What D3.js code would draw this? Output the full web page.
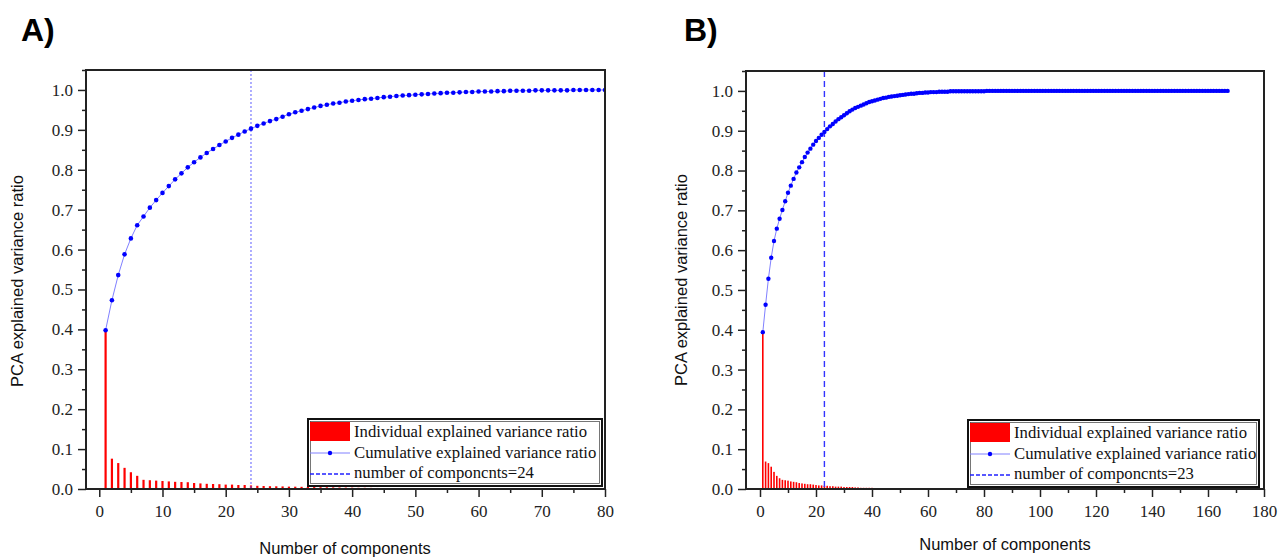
<!DOCTYPE html>
<html>
<head>
<meta charset="utf-8">
<script src="https://d3js.org/d3.v7.min.js"></script>
<style>
body { margin: 0; background: #fff; }
.tick line { stroke: #222; stroke-width: 1.5; }
.frame { fill: none; stroke: #222; stroke-width: 2; }
.bar { fill: #ff0000; }
.cumline { fill: none; stroke: #8080ff; stroke-width: 1; }
.dot { fill: #0000ff; }
.axis-title { font-family: "Liberation Sans", Arial, sans-serif; font-size: 16.5px; fill: #111; }
.panel-label { font-family: "Liberation Sans", Arial, sans-serif; font-weight: bold; font-size: 32px; fill: #000; }
.legend text { font-family: "Liberation Serif", "Times New Roman", serif; font-size: 16.7px; fill: #111; }
</style>
</head>
<body>
<svg id="chart" width="1278" height="557"></svg>
<script>

// ---- panel A data (80 components) ----
var individualA = [
  0.397, 0.076, 0.065, 0.053, 0.042, 0.033, 0.023, 0.022, 0.021, 0.020,
  0.019, 0.018, 0.0175, 0.017, 0.015, 0.014, 0.013, 0.0125, 0.012, 0.011,
  0.011, 0.010, 0.010, 0.009, 0.008, 0.0075, 0.007, 0.0068, 0.0065, 0.006,
  0.0058, 0.0055, 0.005, 0.0048, 0.0045, 0.0042, 0.004, 0.0038, 0.0035, 0.0033,
  0.003, 0.003, 0.0028, 0.0026, 0.0025, 0.0024, 0.0022, 0.002, 0.002, 0.0019,
  0.0018, 0.0017, 0.0016, 0.0015, 0.0014, 0.0013, 0.0012, 0.0012, 0.0011, 0.001,
  0.0009, 0.0009, 0.0008, 0.0008, 0.0007, 0.0007, 0.0006, 0.0006, 0.0006, 0.0005,
  0.0005, 0.0005, 0.0004, 0.0004, 0.0004, 0.0004, 0.0003, 0.0003, 0.0003, 0.0003
];
var cumulativeA = [
  0.398, 0.473, 0.536, 0.588, 0.628, 0.661, 0.683, 0.705, 0.724, 0.742,
  0.759, 0.776, 0.791, 0.806, 0.819, 0.831, 0.842, 0.852, 0.862, 0.871,
  0.880, 0.888, 0.896, 0.903, 0.910, 0.916, 0.922, 0.927, 0.933, 0.939,
  0.944, 0.948, 0.952, 0.956, 0.960, 0.963, 0.966, 0.968, 0.971, 0.973,
  0.975, 0.977, 0.978, 0.980, 0.982, 0.983, 0.985, 0.986, 0.987, 0.988,
  0.989, 0.990, 0.991, 0.992, 0.993, 0.993, 0.994, 0.995, 0.995, 0.996,
  0.996, 0.996, 0.997, 0.997, 0.998, 0.998, 0.998, 0.998, 0.999, 0.999,
  0.999, 0.999, 0.999, 0.999, 1.000, 1.000, 1.000, 1.000, 1.000, 1.000
];
var nCompA = 24;
var xTicksA = [0, 10, 20, 30, 40, 50, 60, 70, 80];
var xMinorA = [5, 15, 25, 35, 45, 55, 65, 75];

// ---- panel B data (167 components) ----
var individualB = [
  0.394, 0.069, 0.065, 0.056, 0.043, 0.033, 0.027, 0.023, 0.022, 0.021,
  0.019, 0.018, 0.017, 0.015, 0.014, 0.013, 0.012, 0.012, 0.011, 0.010,
  0.009, 0.009, 0.008, 0.008, 0.007, 0.007, 0.006, 0.006, 0.006, 0.005,
  0.005, 0.005, 0.005, 0.004, 0.004, 0.003, 0.003, 0.003, 0.003, 0.003,
  0.002, 0.002, 0.002, 0.002, 0.002, 0.002, 0.002, 0.002, 0.002, 0.002,
  0.0015, 0.0015, 0.0014, 0.0013, 0.0012, 0.0011, 0.001, 0.001, 0.0009, 0.0009,
  0.0008, 0.0008, 0.0007, 0.0007, 0.0006, 0.0006, 0.0005, 0.0005, 0.0004, 0.0004,
  0.0004, 0.0003, 0.0003, 0.0003, 0.0003, 0.0003, 0.0003, 0.0003, 0.0003, 0.0003,
  0.0002, 0.0002, 0.0002, 0.0002, 0.0002, 0.0002, 0.0002, 0.0002, 0.0002, 0.0002,
  0.0002, 0.0002, 0.0002, 0.0002, 0.0002, 0.0002, 0.0002, 0.0002, 0.0002, 0.0002,
  0.0001, 0.0001, 0.0001, 0.0001, 0.0001, 0.0001, 0.0001, 0.0001, 0.0001, 0.0001,
  0.0001, 0.0001, 0.0001, 0.0001, 0.0001, 0.0001, 0.0001, 0.0001, 0.0001, 0.0001,
  0.0001, 0.0001, 0.0001, 0.0001, 0.0001, 0.0001, 0.0001, 0.0001, 0.0001, 0.0001,
  0, 0, 0, 0, 0, 0, 0, 0, 0, 0,
  0, 0, 0, 0, 0, 0, 0, 0, 0, 0,
  0, 0, 0, 0, 0, 0, 0, 0, 0, 0,
  0, 0, 0, 0, 0, 0, 0
];
var cumulativeB = [
  0.394, 0.463, 0.528, 0.581, 0.623, 0.654, 0.679, 0.701, 0.723, 0.744,
  0.762, 0.779, 0.795, 0.808, 0.821, 0.834, 0.845, 0.855, 0.865, 0.874,
  0.882, 0.890, 0.897, 0.904, 0.911, 0.917, 0.923, 0.929, 0.934, 0.939,
  0.944, 0.949, 0.953, 0.957, 0.960, 0.963, 0.966, 0.969, 0.972, 0.974,
  0.976, 0.978, 0.980, 0.982, 0.983, 0.985, 0.986, 0.987, 0.988, 0.989,
  0.990, 0.991, 0.992, 0.993, 0.993, 0.994, 0.995, 0.995, 0.996, 0.996,
  0.997, 0.997, 0.997, 0.998, 0.998, 0.998, 0.998, 0.999, 0.999, 0.999,
  0.999, 0.999, 0.999, 0.999, 0.999, 0.999, 0.999, 0.999, 0.999, 0.999,
  1, 1, 1, 1, 1, 1, 1, 1, 1, 1,
  1, 1, 1, 1, 1, 1, 1, 1, 1, 1,
  1, 1, 1, 1, 1, 1, 1, 1, 1, 1,
  1, 1, 1, 1, 1, 1, 1, 1, 1, 1,
  1, 1, 1, 1, 1, 1, 1, 1, 1, 1,
  1, 1, 1, 1, 1, 1, 1, 1, 1, 1,
  1, 1, 1, 1, 1, 1, 1, 1, 1, 1,
  1, 1, 1, 1, 1, 1, 1, 1, 1, 1,
  1, 1, 1, 1, 1, 1, 1
];
var nCompB = 23;
var xTicksB = [0, 20, 40, 60, 80, 100, 120, 140, 160, 180];
var xMinorB = [10, 30, 50, 70, 90, 110, 130, 150, 170];

var yTicks = [0, 0.1, 0.2, 0.3, 0.4, 0.5, 0.6, 0.7, 0.8, 0.9, 1.0];
var yMinor = [0.05, 0.15, 0.25, 0.35, 0.45, 0.55, 0.65, 0.75, 0.85, 0.95, 1.05];

var legendLabels = ["Individual explained variance ratio", "Cumulative explained variance ratio", "number of componcnts="];

var svg = d3.select("#chart");
var tickFont = '"Liberation Serif", "Times New Roman", serif';

function styleAxis(sel) {
    sel.attr("font-family", tickFont).attr("font-size", 17);
    sel.selectAll(".tick text").attr("fill", "#222");
    sel.select(".domain").remove();
}

function drawPanel(p) {
    var g = svg.append("g");
    var comps = d3.range(1, p.individual.length + 1);

    var x = d3.scaleLinear().domain(p.xDomain).range([p.left, p.right]);
    var y = d3.scaleLinear().domain([0, 1.05]).range([p.bottom, p.top]);

    g.append("clipPath").attr("id", p.id + "-clip")
      .append("rect")
        .attr("x", p.left).attr("y", p.top)
        .attr("width", p.right - p.left).attr("height", p.bottom - p.top);

    var plot = g.append("g").attr("clip-path", "url(#" + p.id + "-clip)");

    // individual ratio bars
    plot.selectAll("rect.bar")
        .data(p.individual)
        .join("rect")
        .attr("class", "bar")
        .attr("x", function(d, i) { return x(comps[i]) - p.barW / 2; })
        .attr("width", p.barW)
        .attr("y", function(d) { return y(d); })
        .attr("height", function(d) { return y(0) - y(d); });

    // number of components marker
    plot.append("line")
        .attr("x1", x(p.nComp)).attr("x2", x(p.nComp))
        .attr("y1", p.top).attr("y2", p.bottom)
        .attr("stroke", p.vColor)
        .attr("stroke-width", p.vWidth)
        .attr("stroke-dasharray", p.vDash);

    // cumulative curve
    var line = d3.line()
        .x(function(d, i) { return x(comps[i]); })
        .y(function(d) { return y(d); });

    plot.append("path")
        .datum(p.cumulative)
        .attr("class", "cumline")
        .attr("d", line);

    plot.selectAll("circle.dot")
        .data(p.cumulative)
        .join("circle")
        .attr("class", "dot")
        .attr("cx", function(d, i) { return x(comps[i]); })
        .attr("cy", function(d) { return y(d); })
        .attr("r", p.dotR);

    // axes
    g.append("g").attr("transform", "translate(" + p.left + ",0)")
        .call(d3.axisLeft(y).tickValues(yTicks).tickFormat(d3.format(".1f")).tickSize(8).tickPadding(5))
        .call(styleAxis);
    g.append("g").attr("transform", "translate(" + p.left + ",0)")
        .call(d3.axisLeft(y).tickValues(yMinor).tickFormat("").tickSize(4))
        .call(styleAxis);

    g.append("g").attr("transform", "translate(0," + p.bottom + ")")
        .call(d3.axisBottom(x).tickValues(p.xTicks).tickFormat(d3.format("d")).tickSize(8).tickPadding(8))
        .call(styleAxis);
    g.append("g").attr("transform", "translate(0," + p.bottom + ")")
        .call(d3.axisBottom(x).tickValues(p.xMinor).tickFormat("").tickSize(4))
        .call(styleAxis);

    g.append("rect")
        .attr("class", "frame")
        .attr("x", p.left).attr("y", p.top)
        .attr("width", p.right - p.left).attr("height", p.bottom - p.top);

    // legend
    var lg = g.append("g").attr("class", "legend")
        .attr("transform", "translate(" + p.legend[0] + "," + p.legend[1] + ")");
    lg.append("rect")
        .attr("width", p.legendW).attr("height", 67)
        .attr("fill", "#fff").attr("stroke", "#111").attr("stroke-width", 2);
    lg.append("rect")
        .attr("x", 2.5).attr("y", 2.5)
        .attr("width", p.legendW - 5).attr("height", 62)
        .attr("fill", "none").attr("stroke", "#555").attr("stroke-width", 0.8);

    lg.append("rect")
        .attr("x", 2).attr("y", 3).attr("width", 40).attr("height", 19)
        .attr("fill", "#ff0000");
    lg.append("line")
        .attr("x1", 2).attr("x2", 42).attr("y1", 34).attr("y2", 34)
        .attr("stroke", "#8080ff").attr("stroke-width", 1);
    lg.append("circle").attr("cx", 22).attr("cy", 34).attr("r", 2.2).attr("fill", "#0000ff");
    lg.append("line")
        .attr("x1", 2).attr("x2", 42).attr("y1", 55).attr("y2", 55)
        .attr("stroke", "#2222ff").attr("stroke-width", 1.3)
        .attr("stroke-dasharray", "4,2");

    var labels = [legendLabels[0], legendLabels[1], legendLabels[2] + p.nComp];
    lg.selectAll("text")
        .data(labels)
        .join("text")
        .attr("x", 46)
        .attr("y", function(d, i) { return 18 + i * 20.5; })
        .text(function(d) { return d; });

    // titles
    g.append("text")
        .attr("class", "axis-title")
        .attr("text-anchor", "middle")
        .attr("x", p.xTitle[0]).attr("y", p.xTitle[1])
        .text("Number of components");

    g.append("text")
        .attr("class", "axis-title")
        .attr("text-anchor", "middle")
        .attr("transform", "translate(" + p.yTitle[0] + "," + p.yTitle[1] + ") rotate(-90)")
        .text("PCA explained variance ratio");

    g.append("text")
        .attr("class", "panel-label")
        .attr("x", p.label[0]).attr("y", p.label[1])
        .text(p.labelText);
}

drawPanel({
    id: "a", labelText: "A)", label: [21, 41],
    individual: individualA, cumulative: cumulativeA, nComp: nCompA,
    xDomain: [-2.1, 80], xTicks: xTicksA, xMinor: xMinorA,
    left: 86, right: 605, top: 70, bottom: 489,
    barW: 2.2, dotR: 2.3,
    vColor: "#5c5cff", vWidth: 1, vDash: "2,2",
    legend: [308, 419], legendW: 294,
    xTitle: [345, 554], yTitle: [23, 281]
});

drawPanel({
    id: "b", labelText: "B)", label: [684, 41],
    individual: individualB, cumulative: cumulativeB, nComp: nCompB,
    xDomain: [-5, 180], xTicks: xTicksB, xMinor: xMinorB,
    left: 746, right: 1264, top: 71, bottom: 489,
    barW: 1.6, dotR: 2.2,
    vColor: "#3333ff", vWidth: 1.4, vDash: "6,4",
    legend: [968, 420], legendW: 291,
    xTitle: [1005, 550], yTitle: [687, 280]
});

</script>
</body>
</html>
